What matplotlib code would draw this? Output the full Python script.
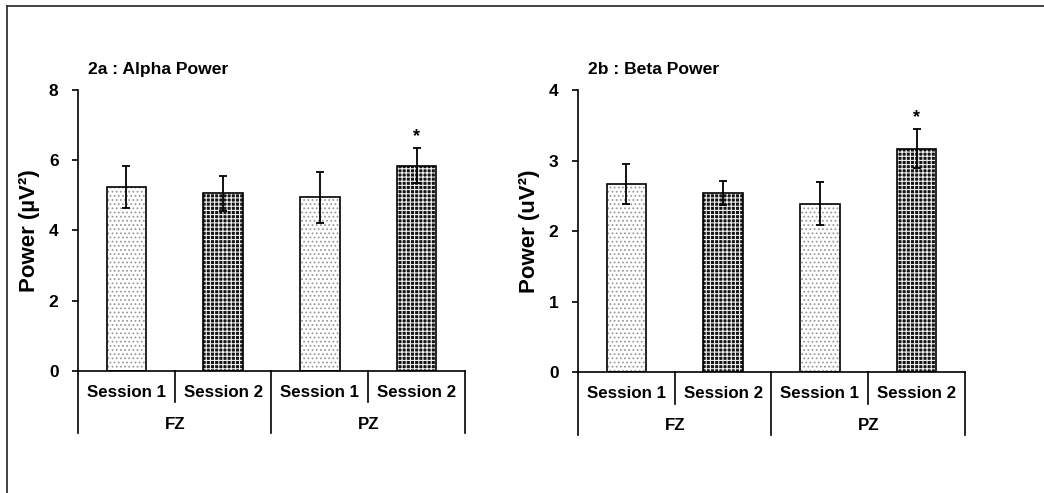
import matplotlib
matplotlib.use("Agg")
import matplotlib.pyplot as plt
from matplotlib.lines import Line2D

plt.rcParams['font.family'] = ['Liberation Sans', 'DejaVu Sans']
plt.rcParams['font.weight'] = 'bold'
plt.rcParams['hatch.linewidth'] = 0.8

sessions = ["Session 1", "Session 2", "Session 1", "Session 2"]
sites = ["FZ", "PZ"]

alpha_mean = [5.23, 5.06, 4.94, 5.84]
alpha_err = [0.60, 0.50, 0.72, 0.50]
alpha_sig = [False, False, False, True]

beta_mean = [2.67, 2.54, 2.39, 3.17]
beta_err = [0.28, 0.17, 0.30, 0.28]
beta_sig = [False, False, False, True]

fig = plt.figure(figsize=(10.44, 4.93), dpi=100)

# outer frame (only top and left edges show)
fig.add_artist(Line2D([0.007, 0.007], [0.0, 0.988], color='#333333', lw=1.3))
fig.add_artist(Line2D([0.007, 1.0], [0.988, 0.988], color='#333333', lw=1.3))


def panel(rect, means, errs, sig, ymax, ystep, title, ylabel):
    ax = fig.add_axes(rect)
    x = list(range(len(means)))
    for i, (m, e) in enumerate(zip(means, errs)):
        if i % 2 == 0:
            ax.bar(i, m, width=0.41, color='white', edgecolor='#9a9a9a',
                   hatch='....', linewidth=0, zorder=2)
        else:
            ax.bar(i, m, width=0.41, color='#151515', edgecolor='#f0f0f0',
                   hatch='++++', linewidth=0, zorder=2)
        ax.bar(i, m, width=0.41, fill=False, edgecolor='black',
               linewidth=1.2, zorder=3)
    ax.errorbar(x, means, yerr=errs, fmt='none', ecolor='black',
                elinewidth=1.3, capsize=2.8, capthick=1.3, zorder=4)
    for i, s in enumerate(sig):
        if s:
            ax.annotate('*', (i, means[i] + errs[i]), xytext=(0, 2),
                        textcoords='offset points', ha='center', va='bottom',
                        fontsize=13, fontweight='bold')

    ax.set_xlim(-0.5, len(means) - 0.5)
    ax.set_ylim(0, ymax)
    ax.set_yticks([ystep * k for k in range(int(ymax / ystep) + 1)])
    ax.tick_params(axis='y', direction='out', length=4, width=1.2,
                   labelsize=12.5, pad=10)
    ax.set_xticks([])
    for side in ['top', 'right']:
        ax.spines[side].set_visible(False)
    for side in ['left', 'bottom']:
        ax.spines[side].set_linewidth(1.2)

    tr = ax.get_xaxis_transform()
    for i, s in enumerate(sessions):
        ax.text(i, -0.075, s, transform=tr, ha='center', va='center',
                fontsize=12.2, fontweight='bold')
    for j, g in enumerate(sites):
        ax.text(2 * j + 0.5, -0.19, g, transform=tr, ha='center',
                va='center', fontsize=12.2, fontweight='bold')
    for b in [-0.5, 1.5, 3.5]:
        ax.plot([b, b], [0, -0.222], transform=tr, color='black', lw=1.2,
                clip_on=False)
    for b in [0.5, 2.5]:
        ax.plot([b, b], [0, -0.112], transform=tr, color='black', lw=1.2,
                clip_on=False)

    ax.text(0.026, 1.045, title, transform=ax.transAxes, ha='left',
            va='bottom', fontsize=12.6, fontweight='bold')
    ax.set_ylabel(ylabel, fontsize=16, fontweight='bold', labelpad=6)
    return ax


panel([0.0747, 0.2475, 0.3707, 0.5700], alpha_mean, alpha_err, alpha_sig,
      8, 2, "2a : Alpha Power", "Power (\u00b5V\u00b2)")
panel([0.5536, 0.2454, 0.3707, 0.5720], beta_mean, beta_err, beta_sig,
      4, 1, "2b : Beta Power", "Power (uV\u00b2)")

fig.savefig("out.png", dpi=100)
